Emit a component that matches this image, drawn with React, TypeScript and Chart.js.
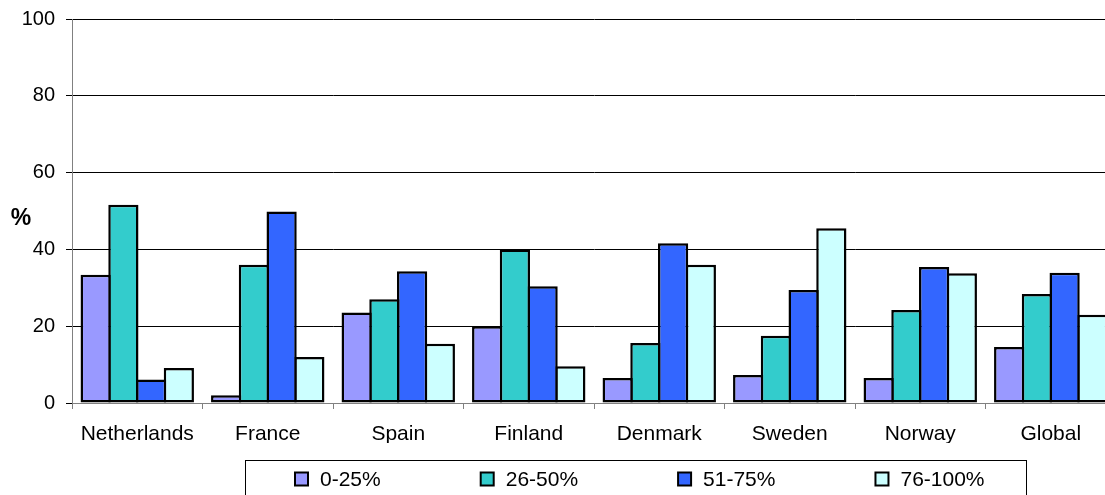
import React, { useEffect, useRef } from "react";
import { Chart, registerables } from "chart.js";

Chart.register(...registerables);

const categories = ["Netherlands", "France", "Spain", "Finland", "Denmark", "Sweden", "Norway", "Global"];
const seriesLabels = ["0-25%", "26-50%", "51-75%", "76-100%"];
const seriesColors = ["#9999FF", "#33CCCC", "#3366FF", "#CCFFFF"];
const s0to25 = [33.4, 2.0, 23.6, 20.0, 6.5, 7.3, 6.5, 14.6];
const s26to50 = [51.6, 36.0, 27.0, 40.0, 15.6, 17.5, 24.2, 28.4];
const s51to75 = [6.1, 49.9, 34.3, 30.4, 41.6, 29.4, 35.4, 33.9];
const s76to100 = [9.1, 12.0, 15.4, 9.6, 36.0, 45.5, 33.8, 23.0];
const yTicks = [0, 20, 40, 60, 80, 100];

const FONT = "'Liberation Sans', Arial, sans-serif";
const SHIFT = 4;

const extrasPlugin = {
  id: "extras",
  afterDraw(chart: any) {
    const ctx = chart.ctx;
    ctx.save();
    ctx.translate(0, SHIFT);
    // "%" axis label
    ctx.fillStyle = "#000";
    ctx.font = `bold 23px ${FONT}`;
    ctx.textAlign = "center";
    ctx.textBaseline = "middle";
    ctx.fillText("%", 21, 219);

    // legend frame
    ctx.strokeStyle = "#000";
    ctx.lineWidth = 1;
    ctx.strokeRect(245.5, 460.5, 781, 60);

    // legend items
    ctx.font = `21px ${FONT}`;
    ctx.textAlign = "left";
    const gap = 100;
    const box = 13;
    const items = chart.data.datasets.map((d: any) => ({
      label: d.label,
      color: d.backgroundColor,
      w: box + 12 + ctx.measureText(d.label).width,
    }));
    let x = 295;
    const yc = 479;
    items.forEach((it: any) => {
      ctx.fillStyle = it.color;
      ctx.fillRect(x, yc - box / 2, box, box);
      ctx.lineWidth = 2;
      ctx.strokeStyle = "#000";
      ctx.strokeRect(x, yc - box / 2, box, box);
      ctx.fillStyle = "#000";
      ctx.fillText(it.label, x + box + 12, yc + 1);
      x += it.w + gap;
    });
    ctx.restore();
  },
};

export default function App() {
  const ref = useRef<HTMLCanvasElement>(null);
  useEffect(() => {
    if (!ref.current) return;
    const seriesData = [s0to25, s26to50, s51to75, s76to100];
    const chart = new Chart(ref.current, {
      type: "bar",
      data: {
        labels: categories,
        datasets: seriesLabels.map((label, i) => ({
          label,
          data: seriesData[i],
          backgroundColor: seriesColors[i],
          borderColor: "#000",
          borderWidth: 2.5,
          borderSkipped: false,
          inflateAmount: 0,
          categoryPercentage: 0.85,
          barPercentage: 1.09,
        })),
      },
      options: {
        animation: false,
        responsive: false,
        devicePixelRatio: 1,
        layout: { padding: { top: 14, bottom: 52, left: 0, right: 0 } },
        plugins: {
          legend: { display: false },
          tooltip: { enabled: false },
          title: { display: false },
        },
        scales: {
          x: {
            offset: true,
            grid: {
              display: true,
              drawOnChartArea: false,
              drawTicks: true,
              tickLength: 6,
              color: "#808080",
              offset: true,
            },
            border: { display: true, color: "#808080", width: 1 },
            ticks: {
              color: "#000",
              font: { family: FONT, size: 21 },
              padding: 13,
              maxRotation: 0,
              autoSkip: false,
            },
            afterFit: (scale: any) => {
              scale.height = 40;
            },
          },
          y: {
            min: 0,
            max: 100,
            afterBuildTicks: (scale: any) => {
              scale.ticks = yTicks.map((v) => ({ value: v }));
            },
            grid: {
              color: (c: any) => (c.tick && c.tick.value === 0 ? "#808080" : "#000"),
              tickColor: "#000",
              lineWidth: 1,
              drawTicks: true,
              tickLength: 6,
            },
            border: { display: true, color: "#808080", width: 1 },
            ticks: {
              color: "#000",
              font: { family: FONT, size: 20 },
              padding: 11,
            },
            afterFit: (scale: any) => {
              scale.width = 72;
            },
          },
        },
      },
      plugins: [extrasPlugin],
    });
    return () => chart.destroy();
  }, []);

  return (
    <div style={{ position: "fixed", left: 0, top: 0, width: 1105, height: 495, overflow: "hidden", background: "#fff" }}>
      <canvas
        ref={ref}
        width={1116}
        height={495 + SHIFT}
        style={{ display: "block", marginTop: -SHIFT }}
      />
    </div>
  );
}
